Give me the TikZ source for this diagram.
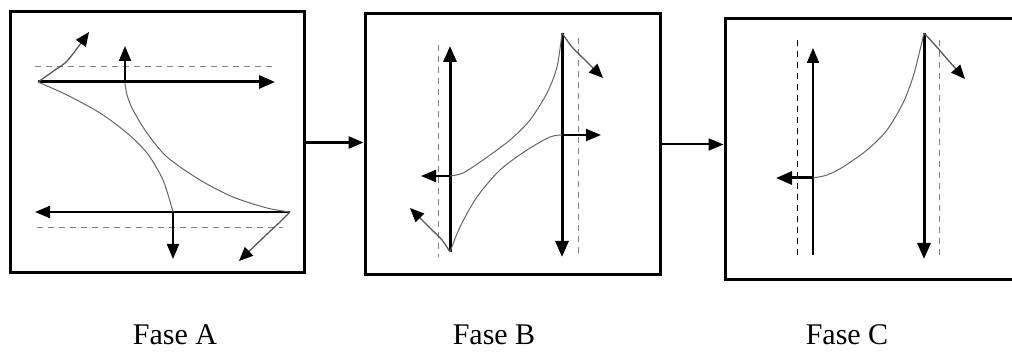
\documentclass[tikz,border=0pt]{standalone}
\usepackage{fontspec}
\setmainfont{Liberation Serif}
\usetikzlibrary{arrows.meta}
\tikzset{
  frame/.style={draw=black, line width=3pt, inner sep=0pt, fill=none},
  link/.style={line width=2.6pt, -{Triangle[length=15pt,width=12pt]}},
  thinlink/.style={line width=2pt, -{Triangle[length=15pt,width=12pt]}},
  force/.style={line width=3pt, -{Triangle[length=16pt,width=13pt]}},
  mforce/.style={line width=2pt, -{Triangle[length=15pt,width=12pt]}},
  curveline/.style={draw=black!60, line width=1pt},
  small/.style={draw=black!65, line width=1.3pt, -{Triangle[length=14pt,width=12pt,color=black]}},
  guide/.style={draw=black!50, line width=1pt, dash pattern=on 6pt off 5pt},
  guidek/.style={draw=black, line width=1pt, dash pattern=on 6pt off 5pt},
  lbl/.style={font=\fontsize{30}{36}\selectfont, anchor=base, inner sep=0pt}
}
\begin{document}
\begin{tikzpicture}[x=1pt,y=-1pt]
\useasboundingbox (0,0) rectangle (1012,352);
\clip (0,0) rectangle (1012,352);
\fill[white] (0,0) rectangle (1012,352);

% frames
\node[frame, minimum width=294pt, minimum height=261pt] (A) at (157,142.5) {};
\node[frame, minimum width=295pt, minimum height=261pt] (B) at (512.5,144.5) {};
\node[frame, minimum width=290pt, minimum height=261pt] (C) at (870,149.5) {};

% connectors between phases
\draw[link] (A.east) -- (A.east -| B.west);
\draw[thinlink] (B.east) -- (B.east -| C.west);

% ---------- Fase A ----------
\coordinate (a1) at (38,82);
\coordinate (a2) at (290,212);
\coordinate (a3) at (125,83);
\coordinate (a4) at (173,212);
\draw[guide] (35,67) -- (273,67);
\draw[guide] (37,228) -- (283,228);
\draw[force] (a1) -- (275,82);
\draw[mforce] (a2) -- (35,212);
\draw[curveline] plot[smooth] coordinates {(a1) (67,95) (100,113) (127,133) (147,153) (163,180) (a4)};
\draw[curveline] plot[smooth] coordinates {(a3) (127,95) (133,110) (147,133) (167,157) (200,180) (233,197) (267,208) (a2)};
\draw[mforce] (a3) -- (125,46);
\draw[mforce] (a4) -- (173,259);
\draw[small] plot[smooth] coordinates {(a1) (55,70) (68,60) (89,32)};
\draw[small] plot[smooth] coordinates {(a2) (280,222) (265,236) (239,261)};

% ---------- Fase B ----------
\coordinate (b1) at (562,33);
\coordinate (b2) at (450,252);
\coordinate (b3) at (450,176);
\coordinate (b4) at (562,135);
\draw[guide] (438,45) -- (438,257);
\draw[guide] (578,38) -- (578,257);
\draw[force] (b2) -- (450,46);
\draw[force] (b1) -- (562,257);
\draw[curveline] plot[smooth] coordinates {(b1) (557,67) (547,93) (530,120) (510,140) (483,160) (463,173) (b3)};
\draw[curveline] plot[smooth] coordinates {(b2) (460,227) (477,197) (500,170) (527,150) (550,137) (b4)};
\draw[mforce] (b3) -- (421,176);
\draw[mforce] (b4) -- (601,135);
\draw[small] plot[smooth] coordinates {(b1) (572,47) (585,60) (603,78)};
\draw[small] plot[smooth] coordinates {(b2) (442,240) (430,228) (410,208)};

% ---------- Fase C ----------
\coordinate (c1) at (924,33);
\coordinate (c2) at (813,255);
\coordinate (c3) at (813,178);
\draw[guidek] (797,40) -- (797,257);
\draw[guide] (939,40) -- (939,257);
\draw[mforce] (c2) -- (813,48);
\draw[force] (c1) -- (924,259);
\draw[curveline] plot[smooth] coordinates {(c1) (920,50) (913,77) (903,103) (887,130) (867,150) (843,167) (827,175) (c3)};
\draw[force] (c3) -- (776,178);
\draw[small] plot[smooth] coordinates {(c1) (935,45) (948,60) (965,79)};

% labels
\node[lbl] (la) at (175,345) {Fase A};
\node[lbl] (lb) at (494,345) {Fase B};
\node[lbl] (lc) at (847,345) {Fase C};
\end{tikzpicture}
\end{document}
